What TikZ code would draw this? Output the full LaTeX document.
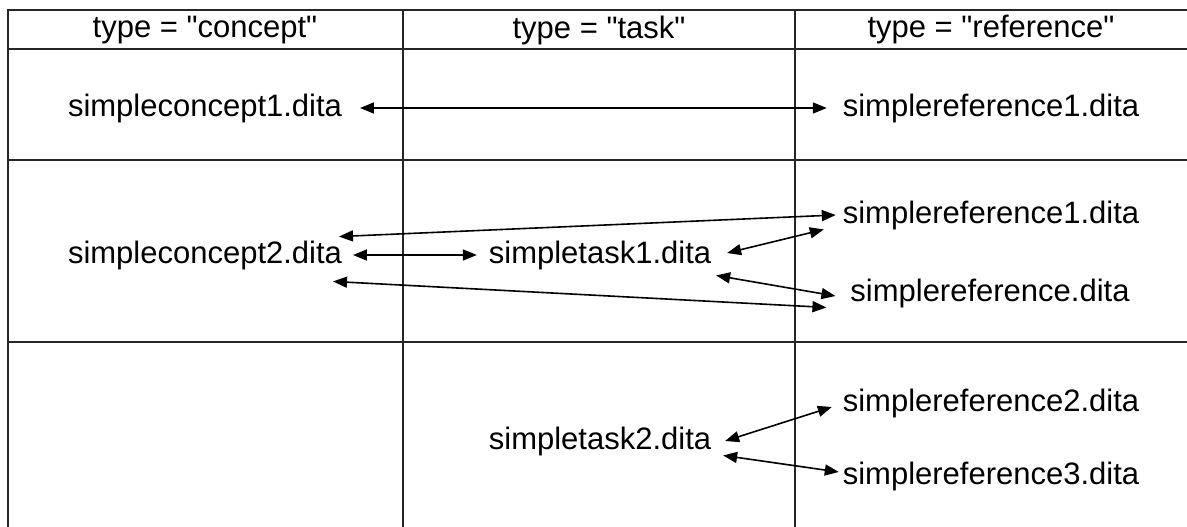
\documentclass[tikz,border=0pt]{standalone}
\usepackage{fontspec}
\setmainfont{Liberation Sans}
\usetikzlibrary{arrows.meta}
\newcommand{\qt}[1]{\textquotedbl#1\textquotedbl}

\begin{document}
\begin{tikzpicture}[x=1pt,y=1pt,
  my node/.style={inner sep=0pt,outer sep=0pt,font=\fontsize{31}{37}\selectfont},
  my link/.style={{Triangle[length=14pt,width=11pt]}-{Triangle[length=14pt,width=11pt]},line width=1.6pt},
  my grid/.style={line width=2pt,draw=black!85}]
  \useasboundingbox (0,0) rectangle (1187,-527);
  % GRID
  \draw[my grid] (1187,-10) -- (8,-10) -- (8,-527);
  \draw[my grid] (8,-49) -- (1187,-49);
  \draw[my grid] (8,-160) -- (1187,-160);
  \draw[my grid] (8,-342) -- (1187,-342);
  \draw[my grid] (403,-10) -- (403,-527);
  \draw[my grid] (795,-10) -- (795,-527);
  % HEADERS
  \node[my node] (hconcept) at (205,-30) {type = \qt{concept}};
  \node[my node] (htask) at (599,-30) {type = \qt{task}};
  \node[my node] (hreference) at (991,-30) {type = \qt{reference}};
  % NODES
  \node[my node] (concept1) at (205,-108) {simpleconcept1.dita};
  \node[my node] (ref1a) at (991,-108) {simplereference1.dita};
  \node[my node] (concept2) at (205,-255) {simpleconcept2.dita};
  \node[my node] (task1) at (600,-255) {simpletask1.dita};
  \node[my node] (ref1b) at (991,-215) {simplereference1.dita};
  \node[my node] (ref) at (990,-293) {simplereference.dita};
  \node[my node] (task2) at (600,-441) {simpletask2.dita};
  \node[my node] (ref2) at (991,-403) {simplereference2.dita};
  \node[my node] (ref3) at (991,-476) {simplereference3.dita};
  % PATHS
  \draw[my link] ([xshift=18pt]concept1.east) -- ([xshift=-16pt]ref1a.west);
  \draw[my link] ([xshift=11pt]concept2.east) -- ([xshift=-12pt]task1.west);
  \draw[my link] ([shift={(-3pt,4pt)}]concept2.north east) -- ([xshift=-7pt]ref1b.west);
  \draw[my link] ([shift={(-9pt,-12pt)}]concept2.south east) -- ([xshift=-24pt]ref.south west);
  \draw[my link] ([shift={(16pt,2pt)}]task1.east) -- ([xshift=-19pt]ref1b.south west);
  \draw[my link] ([shift={(5pt,-6pt)}]task1.south east) -- ([shift={(-15pt,-3pt)}]ref.west);
  \draw[my link] ([xshift=14pt]task2.east) -- ([shift={(-11pt,-4pt)}]ref2.west);
  \draw[my link] ([xshift=12pt]task2.south east) -- ([shift={(-4pt,4pt)}]ref3.west);
\end{tikzpicture}
\end{document}
